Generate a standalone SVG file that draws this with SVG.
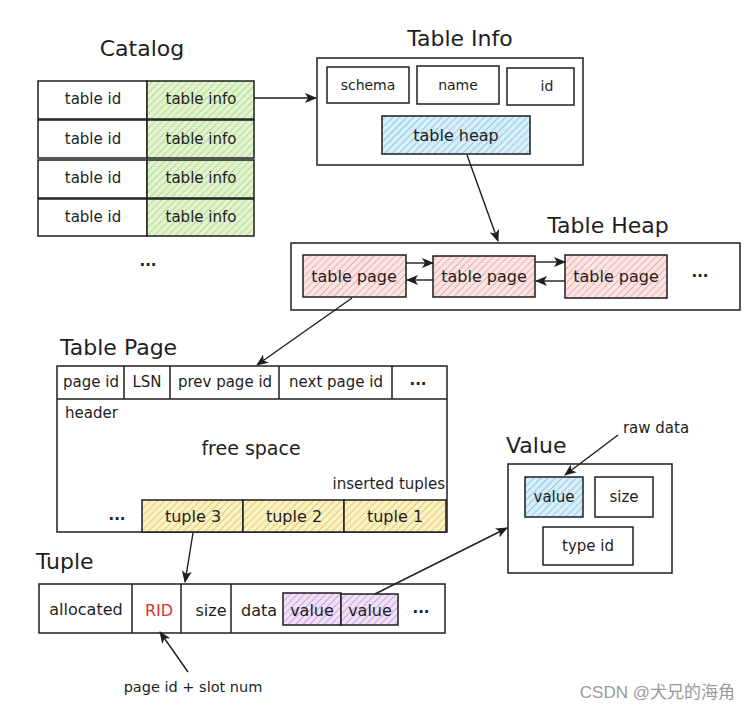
<svg xmlns="http://www.w3.org/2000/svg" width="749" height="708" viewBox="0 0 749 708">
  <style>
    .box { fill: #ffffff; stroke: #1e1e1e; stroke-width: 1.5; }
    .cell { fill: none; stroke: #1e1e1e; stroke-width: 1.5; }
    .t { font-family: "DejaVu Sans", "Liberation Sans", sans-serif; font-size: 15px; fill: #1e1e1e; text-anchor: middle; dominant-baseline: central; }
    .title { font-family: "DejaVu Sans", "Liberation Sans", sans-serif; font-size: 22px; fill: #1e1e1e; dominant-baseline: central; }
    .conn { fill: none; stroke: #1e1e1e; stroke-width: 1.4; }
    .green { fill: url(#hGreen); stroke: #1e1e1e; stroke-width: 1.5; }
    .blue { fill: url(#hBlue); stroke: #1e1e1e; stroke-width: 1.5; }
    .red { fill: url(#hRed); stroke: #1e1e1e; stroke-width: 1.5; }
    .yellow { fill: url(#hYellow); stroke: #1e1e1e; stroke-width: 1.5; }
    .purple { fill: url(#hPurple); stroke: #1e1e1e; stroke-width: 1.5; }
  </style>
  <defs>
    <pattern id="hGreen" width="5" height="5" patternUnits="userSpaceOnUse" patternTransform="rotate(45)">
      <rect width="5" height="5" fill="#e2f3d0"/>
      <line x1="0" y1="0" x2="0" y2="5" stroke="#a5d67c" stroke-width="1.6"/>
    </pattern>
    <pattern id="hBlue" width="5" height="5" patternUnits="userSpaceOnUse" patternTransform="rotate(45)">
      <rect width="5" height="5" fill="#d9eef9"/>
      <line x1="0" y1="0" x2="0" y2="5" stroke="#7cc3e6" stroke-width="1.6"/>
    </pattern>
    <pattern id="hRed" width="5" height="5" patternUnits="userSpaceOnUse" patternTransform="rotate(45)">
      <rect width="5" height="5" fill="#fbe4e4"/>
      <line x1="0" y1="0" x2="0" y2="5" stroke="#e8a0a0" stroke-width="1.6"/>
    </pattern>
    <pattern id="hYellow" width="5" height="5" patternUnits="userSpaceOnUse" patternTransform="rotate(45)">
      <rect width="5" height="5" fill="#fbf2c6"/>
      <line x1="0" y1="0" x2="0" y2="5" stroke="#d9c25a" stroke-width="1.6"/>
    </pattern>
    <pattern id="hPurple" width="5" height="5" patternUnits="userSpaceOnUse" patternTransform="rotate(45)">
      <rect width="5" height="5" fill="#f1e1f6"/>
      <line x1="0" y1="0" x2="0" y2="5" stroke="#c592d8" stroke-width="1.6"/>
    </pattern>
    <marker id="arrow" markerWidth="12" markerHeight="10" refX="11" refY="5" orient="auto" markerUnits="userSpaceOnUse">
      <path d="M0,0 L12,5 L0,10 L3,5 Z" fill="#1e1e1e"/>
    </marker>
  </defs>

  <!-- Catalog -->
  <g id="catalog">
    <text class="title" x="142" y="48" text-anchor="middle">Catalog</text>
    <rect class="box" x="38" y="81" width="109" height="38"/>
    <rect class="green" x="147" y="81" width="107" height="38"/>
    <rect class="box" x="38" y="120" width="109" height="38"/>
    <rect class="green" x="147" y="120" width="107" height="38"/>
    <rect class="box" x="38" y="160" width="109" height="38"/>
    <rect class="green" x="147" y="160" width="107" height="38"/>
    <rect class="box" x="38" y="199" width="109" height="37"/>
    <rect class="green" x="147" y="199" width="107" height="37"/>
    <g class="t" style="font-size:16px">
      <text class="t" x="93" y="99">table id</text>
      <text class="t" x="201" y="99">table info</text>
      <text class="t" x="93" y="139">table id</text>
      <text class="t" x="201" y="139">table info</text>
      <text class="t" x="93" y="178">table id</text>
      <text class="t" x="201" y="178">table info</text>
      <text class="t" x="93" y="217">table id</text>
      <text class="t" x="201" y="217">table info</text>
    </g>
    <text class="t" x="148" y="261" style="font-weight:bold">...</text>
  </g>

  <!-- Table Info -->
  <g id="table-info">
    <text class="title" x="460" y="38" text-anchor="middle">Table Info</text>
    <rect class="box" x="317" y="58" width="266" height="107"/>
    <rect class="box" x="327" y="67" width="82" height="36"/>
    <rect class="box" x="417" y="66" width="82" height="38"/>
    <rect class="box" x="507" y="68" width="67" height="37"/>
    <rect class="blue" x="382" y="116" width="148" height="38"/>
    <text class="t" x="368" y="85" style="font-size:14px">schema</text>
    <text class="t" x="458" y="85" style="font-size:14px">name</text>
    <text class="t" x="547" y="86" style="font-size:14px">id</text>
    <text class="t" x="456" y="135" style="font-size:16px">table heap</text>
  </g>

  <!-- Table Heap -->
  <g id="table-heap">
    <text class="title" x="608" y="225" text-anchor="middle">Table Heap</text>
    <rect class="box" x="291" y="243" width="449" height="67"/>
    <rect class="red" x="303" y="255" width="103" height="42"/>
    <rect class="red" x="433" y="256" width="102" height="41"/>
    <rect class="red" x="565" y="255" width="102" height="43"/>
    <text class="t" x="354" y="276" style="font-size:16px">table page</text>
    <text class="t" x="484" y="276" style="font-size:16px">table page</text>
    <text class="t" x="616" y="276" style="font-size:16px">table page</text>
    <text class="t" x="700" y="272" style="font-weight:bold">...</text>
  </g>

  <!-- Table Page -->
  <g id="table-page">
    <text class="title" x="60" y="347">Table Page</text>
    <rect class="box" x="57" y="366" width="390" height="166"/>
    <line class="cell" x1="57" y1="399" x2="447" y2="399"/>
    <line class="cell" x1="124" y1="366" x2="124" y2="399"/>
    <line class="cell" x1="170" y1="366" x2="170" y2="399"/>
    <line class="cell" x1="279" y1="366" x2="279" y2="399"/>
    <line class="cell" x1="392" y1="366" x2="392" y2="399"/>
    <text class="t" x="91" y="382">page id</text>
    <text class="t" x="147" y="382">LSN</text>
    <text class="t" x="225" y="382">prev page id</text>
    <text class="t" x="336" y="382">next page id</text>
    <text class="t" x="418" y="380" style="font-weight:bold">...</text>
    <text class="t" x="65" y="413" style="text-anchor:start">header</text>
    <text class="t" x="251" y="448" style="font-size:19px">free space</text>
    <text class="t" x="445" y="484" style="text-anchor:end">inserted tuples</text>
    <text class="t" x="117" y="515" style="font-weight:bold">...</text>
    <rect class="yellow" x="142" y="500" width="101" height="32"/>
    <rect class="yellow" x="243" y="500" width="101" height="32"/>
    <rect class="yellow" x="344" y="500" width="102" height="32"/>
    <text class="t" x="193" y="516" style="font-size:16px">tuple 3</text>
    <text class="t" x="294" y="516" style="font-size:16px">tuple 2</text>
    <text class="t" x="395" y="516" style="font-size:16px">tuple 1</text>
  </g>

  <!-- Value -->
  <g id="value">
    <text class="title" x="506" y="445">Value</text>
    <rect class="box" x="508" y="464" width="164" height="109"/>
    <rect class="blue" x="525" y="477" width="58" height="40"/>
    <rect class="box" x="595" y="477" width="58" height="40"/>
    <rect class="box" x="543" y="527" width="90" height="38"/>
    <text class="t" x="554" y="497">value</text>
    <text class="t" x="624" y="497">size</text>
    <text class="t" x="588" y="546">type id</text>
    <text class="t" x="656" y="428">raw data</text>
  </g>

  <!-- Tuple -->
  <g id="tuple">
    <text class="title" x="36" y="561">Tuple</text>
    <rect class="box" x="39" y="584" width="406" height="49"/>
    <line class="cell" x1="132" y1="584" x2="132" y2="633"/>
    <line class="cell" x1="181" y1="584" x2="181" y2="633"/>
    <line class="cell" x1="231" y1="584" x2="231" y2="633"/>
    <rect class="purple" x="283" y="593" width="58" height="32"/>
    <rect class="purple" x="341" y="594" width="57" height="31"/>
    <text class="t" x="86" y="609" style="font-size:16px">allocated</text>
    <text class="t" x="159" y="610" style="font-size:16px;fill:#e03131">RID</text>
    <text class="t" x="211" y="610" style="font-size:16px">size</text>
    <text class="t" x="259" y="610" style="font-size:16px">data</text>
    <text class="t" x="312" y="610" style="font-size:16px">value</text>
    <text class="t" x="370" y="610" style="font-size:16px">value</text>
    <text class="t" x="421" y="608" style="font-weight:bold">...</text>
    <text class="t" x="193" y="687" style="font-size:14.5px">page id + slot num</text>
  </g>

  <!-- Connectors -->
  <g id="connectors">
    <line class="conn" x1="254" y1="98" x2="316" y2="98" marker-end="url(#arrow)"/>
    <line class="conn" x1="467" y1="155" x2="498" y2="241" marker-end="url(#arrow)"/>
    <line class="conn" x1="406" y1="263" x2="433" y2="263" marker-end="url(#arrow)"/>
    <line class="conn" x1="433" y1="280" x2="407" y2="280" marker-end="url(#arrow)"/>
    <line class="conn" x1="535" y1="262" x2="565" y2="262" marker-end="url(#arrow)"/>
    <line class="conn" x1="565" y1="281" x2="536" y2="281" marker-end="url(#arrow)"/>
    <line class="conn" x1="352" y1="298" x2="257" y2="365" marker-end="url(#arrow)"/>
    <line class="conn" x1="193" y1="533" x2="185" y2="582" marker-end="url(#arrow)"/>
    <line class="conn" x1="188" y1="672" x2="160" y2="632" marker-end="url(#arrow)"/>
    <line class="conn" x1="375" y1="594" x2="507" y2="528" marker-end="url(#arrow)"/>
    <line class="conn" x1="618" y1="435" x2="565" y2="475" marker-end="url(#arrow)"/>
  </g>

  <text x="735" y="692" text-anchor="end" dominant-baseline="central" style="font-family:'Liberation Sans','Noto Sans CJK SC',sans-serif;font-size:17px;fill:#9a9a9a">CSDN @犬兄的海角</text>
</svg>
